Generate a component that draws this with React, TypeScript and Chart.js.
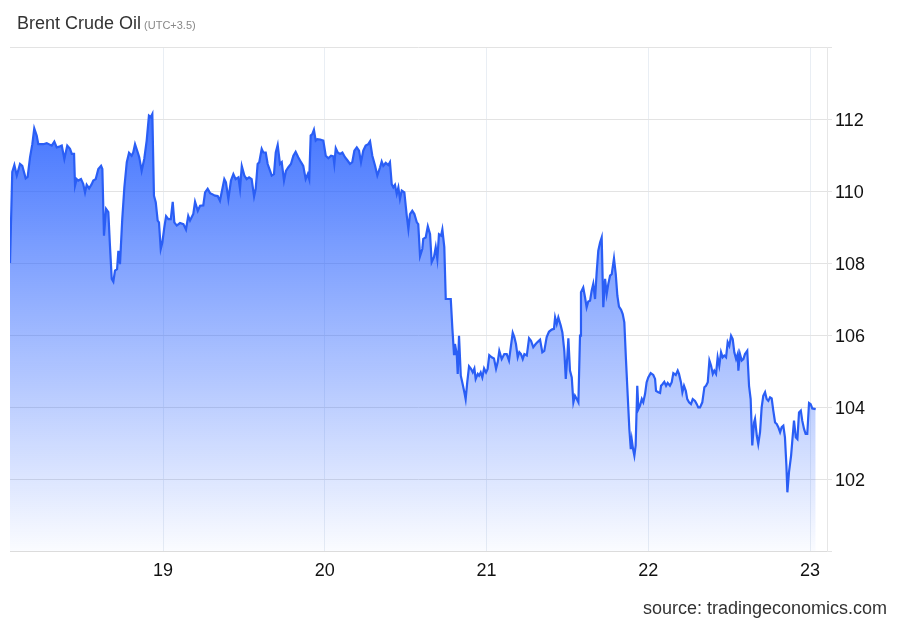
import React, { useEffect, useRef } from "react";
import { Chart, registerables } from "chart.js";

Chart.register(...registerables);

const TITLE = "Brent Crude Oil";
const TIMEZONE = "(UTC+3.5)";
const SOURCE = "source: tradingeconomics.com";

const X_MIN = 18.054;
const X_MAX = 23.105;
const X_TICKS = [19, 20, 21, 22, 23];
const Y_MIN = 100;
const Y_MAX = 114;
const Y_STEP = 2;

// time in days (day of month, fractional)
const times = [
  18.054, 18.068, 18.081, 18.096, 18.116, 18.13, 18.151, 18.163, 18.178, 18.192,
  18.204, 18.219, 18.229, 18.26, 18.281, 18.312, 18.328, 18.343, 18.363, 18.374,
  18.39, 18.408, 18.425, 18.436, 18.45, 18.456, 18.466, 18.476, 18.493, 18.507,
  18.518, 18.528, 18.543, 18.559, 18.569, 18.584, 18.6, 18.617, 18.625, 18.635,
  18.648, 18.662, 18.672, 18.683, 18.693, 18.703, 18.716, 18.724, 18.734, 18.748,
  18.761, 18.776, 18.79, 18.806, 18.816, 18.827, 18.844, 18.853, 18.868, 18.884,
  18.899, 18.913, 18.924, 18.934, 18.944, 18.955, 18.967, 18.975, 18.986, 18.996,
  19.008, 19.019, 19.033, 19.048, 19.06, 19.07, 19.085, 19.105, 19.126, 19.142,
  19.156, 19.167, 19.187, 19.198, 19.215, 19.229, 19.249, 19.26, 19.276, 19.291,
  19.301, 19.321, 19.338, 19.352, 19.367, 19.379, 19.389, 19.404, 19.42, 19.435,
  19.449, 19.466, 19.476, 19.487, 19.503, 19.517, 19.532, 19.548, 19.563, 19.573,
  19.585, 19.595, 19.61, 19.62, 19.635, 19.647, 19.662, 19.672, 19.686, 19.697,
  19.709, 19.723, 19.734, 19.748, 19.76, 19.775, 19.791, 19.806, 19.82, 19.836,
  19.853, 19.867, 19.882, 19.895, 19.904, 19.913, 19.923, 19.933, 19.944, 19.954,
  19.971, 19.991, 20.006, 20.022, 20.039, 20.053, 20.059, 20.068, 20.08, 20.094,
  20.109, 20.125, 20.142, 20.156, 20.17, 20.183, 20.198, 20.212, 20.224, 20.238,
  20.253, 20.269, 20.28, 20.294, 20.311, 20.325, 20.342, 20.352, 20.362, 20.377,
  20.393, 20.403, 20.414, 20.424, 20.434, 20.445, 20.455, 20.465, 20.476, 20.492,
  20.507, 20.517, 20.527, 20.541, 20.554, 20.569, 20.578, 20.589, 20.603, 20.609,
  20.624, 20.637, 20.651, 20.661, 20.675, 20.686, 20.696, 20.706, 20.719, 20.727,
  20.739, 20.748, 20.764, 20.779, 20.789, 20.799, 20.805, 20.816, 20.822, 20.83,
  20.841, 20.85, 20.863, 20.871, 20.881, 20.892, 20.904, 20.915, 20.925, 20.933,
  20.946, 20.954, 20.964, 20.974, 20.985, 20.997, 21.007, 21.017, 21.032, 21.046,
  21.059, 21.069, 21.079, 21.094, 21.11, 21.125, 21.139, 21.151, 21.162, 21.172,
  21.182, 21.193, 21.203, 21.213, 21.224, 21.234, 21.249, 21.263, 21.275, 21.289,
  21.304, 21.317, 21.331, 21.345, 21.357, 21.372, 21.386, 21.403, 21.417, 21.424,
  21.434, 21.444, 21.459, 21.469, 21.481, 21.49, 21.5, 21.506, 21.516, 21.527,
  21.537, 21.547, 21.558, 21.568, 21.578, 21.584, 21.598, 21.609, 21.619, 21.629,
  21.64, 21.65, 21.66, 21.671, 21.681, 21.691, 21.702, 21.712, 21.722, 21.733,
  21.743, 21.753, 21.764, 21.774, 21.788, 21.799, 21.809, 21.819, 21.832, 21.842,
  21.852, 21.862, 21.873, 21.883, 21.892, 21.898, 21.906, 21.914, 21.922, 21.932,
  21.939, 21.949, 21.96, 21.969, 21.98, 21.99, 22.0, 22.015, 22.031, 22.042,
  22.048, 22.062, 22.073, 22.079, 22.089, 22.099, 22.11, 22.12, 22.134, 22.145,
  22.155, 22.17, 22.182, 22.19, 22.202, 22.211, 22.221, 22.232, 22.241, 22.252,
  22.264, 22.275, 22.289, 22.3, 22.309, 22.32, 22.334, 22.347, 22.357, 22.368,
  22.378, 22.388, 22.399, 22.408, 22.419, 22.429, 22.439, 22.45, 22.46, 22.47,
  22.481, 22.491, 22.501, 22.512, 22.522, 22.532, 22.543, 22.553, 22.557, 22.567,
  22.578, 22.588, 22.598, 22.612, 22.623, 22.633, 22.643, 22.654, 22.66, 22.671,
  22.68, 22.691, 22.701, 22.711, 22.722, 22.732, 22.742, 22.753, 22.763, 22.773,
  22.784, 22.794, 22.804, 22.815, 22.825, 22.835, 22.845, 22.854, 22.86, 22.87,
  22.883, 22.893, 22.901, 22.912, 22.922, 22.932, 22.943, 22.952, 22.963, 22.973,
  22.983, 22.994, 23.004, 23.014, 23.035,
];

const prices = [
  108.0, 110.53, 110.72, 110.43, 110.75, 110.7, 110.35, 110.39, 110.94, 111.3,
  111.74, 111.54, 111.3, 111.3, 111.33, 111.26, 111.37, 111.21, 111.24, 111.26,
  110.89, 111.26, 111.17, 111.03, 111.03, 110.15, 110.33, 110.29, 110.33, 110.19,
  109.96, 110.17, 110.07, 110.19, 110.29, 110.33, 110.61, 110.7, 110.61, 108.76,
  109.5, 109.41, 108.48, 107.56, 107.48, 107.79, 107.83, 108.34, 107.97, 109.22,
  110.1, 110.8, 111.06, 110.98, 111.07, 111.3, 111.07, 110.94, 110.56, 110.89,
  111.4, 112.09, 112.05, 112.14, 109.87, 109.69, 109.18, 109.13, 108.39, 108.57,
  108.99, 109.3, 109.22, 109.22, 109.7, 109.13, 109.04, 109.11, 109.08, 108.93,
  109.31, 109.18, 109.36, 109.7, 109.45, 109.59, 109.6, 109.96, 110.06, 109.94,
  109.92, 109.87, 109.86, 109.73, 110.06, 110.33, 110.24, 109.78, 110.29, 110.47,
  110.33, 110.38, 110.06, 110.69, 110.43, 110.33, 110.38, 110.33, 109.85, 110.06,
  110.75, 110.8, 111.17, 111.07, 111.07, 110.75, 110.56, 110.43, 110.47, 111.07,
  111.28, 110.75, 110.8, 110.29, 110.56, 110.66, 110.75, 110.98, 111.09, 110.94,
  110.8, 110.7, 110.33, 110.47, 110.33, 111.54, 111.58, 111.7, 111.4, 111.44,
  111.43, 111.4, 110.98, 110.91, 110.98, 110.96, 110.75, 111.19, 111.07, 111.03,
  111.07, 110.94, 110.84, 110.75, 110.8, 111.12, 111.21, 111.12, 110.8, 111.12,
  111.26, 111.3, 111.38, 110.98, 110.7, 110.43, 110.66, 110.82, 110.7, 110.78,
  110.72, 110.8, 110.19, 110.1, 110.17, 109.92, 110.1, 109.78, 110.01, 109.96,
  109.31, 108.94, 109.36, 109.45, 109.36, 109.13, 109.08, 108.19, 108.39, 108.67,
  108.71, 109.02, 108.8, 108.02, 108.16, 108.44, 108.11, 108.8, 108.76, 108.93,
  108.44, 107.0, 107.0, 107.0, 106.17, 105.47, 105.75, 105.47, 104.92, 105.98,
  104.87, 104.69, 104.41, 104.22, 104.69, 105.13, 105.06, 104.96, 105.07, 104.78,
  104.92, 104.87, 104.96, 104.82, 105.07, 104.96, 105.06, 105.44, 105.38, 105.35,
  105.06, 105.24, 105.56, 105.33, 105.47, 105.47, 105.29, 105.7, 106.06, 105.94,
  105.75, 105.38, 105.52, 105.47, 105.33, 105.47, 105.43, 105.91, 105.84, 105.66,
  105.75, 105.81, 105.87, 105.52, 105.56, 105.94, 106.09, 106.15, 106.17, 106.49,
  106.31, 106.49, 106.26, 106.07, 105.56, 104.78, 105.43, 105.91, 105.01, 104.82,
  104.13, 104.31, 104.22, 104.13, 105.98, 107.19, 107.32, 107.05, 106.77, 106.93,
  106.95, 107.23, 107.42, 107.0, 107.74, 108.34, 108.57, 108.71, 106.77, 107.56,
  107.14, 107.42, 107.65, 107.69, 108.13, 107.69, 107.09, 106.79, 106.7, 106.58,
  106.35, 105.33, 104.31, 103.39, 102.83, 103.09, 102.83, 102.65, 102.93, 104.59,
  103.94, 104.04, 104.22, 104.13, 104.36, 104.69, 104.82, 104.94, 104.89, 104.78,
  104.45, 104.41, 104.39, 104.59, 104.64, 104.7, 104.59, 104.67, 104.59, 104.69,
  104.94, 104.89, 105.01, 104.92, 104.69, 104.41, 104.59, 104.45, 104.22, 104.13,
  104.08, 104.22, 104.17, 104.08, 103.99, 103.99, 104.13, 104.55, 104.59, 104.69,
  105.29, 105.15, 104.92, 105.01, 104.92, 105.38, 105.15, 105.52, 105.38, 105.43,
  105.38, 105.8, 105.7, 105.98, 105.89, 105.52, 105.33, 105.47, 105.01, 105.47,
  105.29, 105.33, 105.47, 105.56, 104.59, 104.22, 102.93, 103.57, 103.67, 103.2,
  102.97, 103.3, 103.99, 104.31, 104.41, 104.22, 104.17, 104.27, 104.24, 103.9,
  103.57, 103.53, 103.44, 103.3, 103.44, 103.48, 103.16, 102.37, 101.63, 102.19,
  102.65, 103.2, 103.62, 103.16, 103.11, 103.85, 103.9, 103.62, 103.39, 103.25,
  103.25, 104.11, 104.08, 103.96, 103.94,
];

const FONT = "'Liberation Sans', Arial, Helvetica, sans-serif";

export default function App() {
  const canvasRef = useRef<HTMLCanvasElement | null>(null);

  useEffect(() => {
    const canvas = canvasRef.current;
    if (!canvas) return;
    const points = times.map((t, i) => ({ x: t, y: prices[i] }));

    const chart = new Chart(canvas, {
      type: "line",
      data: {
        datasets: [
          {
            data: points,
            borderColor: "#2a5ef5",
            borderWidth: 2.2,
            pointRadius: 0,
            tension: 0,
            fill: "start",
            backgroundColor: (ctx: any) => {
              const c = ctx.chart;
              const area = c.chartArea;
              if (!area) return "rgba(41,98,255,0.5)";
              const g = c.ctx.createLinearGradient(0, area.top, 0, area.bottom);
              g.addColorStop(0, "rgba(36,94,255,1)");
              g.addColorStop(0.5, "rgba(36,94,255,0.5)");
              g.addColorStop(1, "rgba(36,94,255,0.02)");
              return g;
            },
          },
        ],
      },
      options: {
        animation: false,
        responsive: false,
        maintainAspectRatio: false,
        layout: { padding: { left: 10, top: 47, right: 0, bottom: 0 } },
        plugins: {
          legend: { display: false },
          tooltip: { enabled: false },
          title: { display: false },
        },
        scales: {
          x: {
            type: "linear",
            min: X_MIN,
            max: X_MAX,
            afterBuildTicks: (scale: any) => {
              scale.ticks = X_TICKS.map((v) => ({ value: v }));
            },
            afterFit: (scale: any) => {
              scale.height = 73;
            },
            grid: {
              color: "#e9eef4",
              drawTicks: false,
            },
            border: { display: true, color: "#dcdcdc" },
            ticks: {
              padding: 9,
              color: "#111",
              font: { family: FONT, size: 18 },
              callback: (v: any) => String(v),
              maxRotation: 0,
            },
          },
          y: {
            position: "right",
            min: Y_MIN,
            max: Y_MAX,
            afterFit: (scale: any) => {
              scale.width = 73;
            },
            grid: {
              color: "#e3e3e3",
              drawTicks: true,
              tickLength: 5,
            },
            border: { display: true, color: "#e6e6e6" },
            ticks: {
              stepSize: Y_STEP,
              padding: 3,
              labelOffset: 2,
              color: "#111",
              font: { family: FONT, size: 18 },
              callback: (v: any) => (v === Y_MIN || v === Y_MAX ? "" : String(v)),
            },
          },
        },
      },
    });
    return () => chart.destroy();
  }, []);

  return (
    <div
      style={{
        position: "fixed",
        left: 0,
        top: 0,
        width: 900,
        height: 624,
        background: "#fff",
        fontFamily: FONT,
      }}
    >
      <canvas ref={canvasRef} width={900} height={624} style={{ position: "absolute", left: 0, top: 0 }} />
      <div
        style={{
          position: "absolute",
          left: 17,
          top: 13,
          fontSize: 18,
          color: "#333",
          whiteSpace: "nowrap",
          lineHeight: "21px",
        }}
      >
        {TITLE}
        <span style={{ fontSize: 11, color: "#888", marginLeft: 3 }}>{TIMEZONE}</span>
      </div>
      <div
        style={{
          position: "absolute",
          right: 13,
          top: 598,
          fontSize: 18,
          color: "#333",
          whiteSpace: "nowrap",
          lineHeight: "21px",
        }}
      >
        {SOURCE}
      </div>
    </div>
  );
}
